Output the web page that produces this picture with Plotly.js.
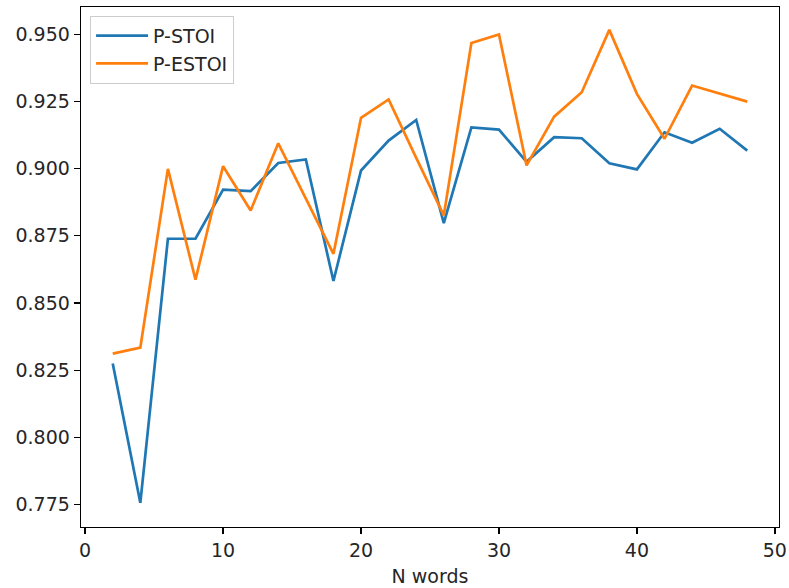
<!DOCTYPE html>
<html>
<head>
<meta charset="utf-8">
<script src="https://cdn.plot.ly/plotly-3.0.1.min.js"></script>
<style>html,body{margin:0;padding:0;background:#fff;}#chart{width:789px;height:588px;}</style>
</head>
<body>
<div id="chart"></div>
<script>
var nWords = [2,4,6,8,10,12,14,16,18,20,22,24,26,28,30,32,34,36,38,40,42,44,46,48];
var pStoi = [0.8275,0.7757,0.8739,0.8739,0.8922,0.8916,0.9021,0.9034,0.8582,0.8993,0.9104,0.9181,0.8797,0.9153,0.9145,0.9025,0.9117,0.9113,0.9020,0.8997,0.9135,0.9096,0.9148,0.9067];
var pEstoi = [0.8312,0.8334,0.8999,0.8587,0.9009,0.8844,0.9094,0.8890,0.8683,0.9189,0.9257,0.9040,0.8826,0.9467,0.9499,0.9012,0.9193,0.9284,0.9516,0.9278,0.9111,0.9309,0.9278,0.9249];
var seriesNames = ["P-STOI","P-ESTOI"];
var yTicks = [0.775,0.800,0.825,0.850,0.875,0.900,0.925,0.950];
var yTickText = ["0.775","0.800","0.825","0.850","0.875","0.900","0.925","0.950"];
var xTicks = [0,10,20,30,40,50];
var xTickText = ["0","10","20","30","40","50"];
</script>
<script>
var font = {family: "DejaVu Sans", size: 19, color: "#262626"};
var traces = [
  {x: nWords, y: pStoi, name: seriesNames[0], type: "scatter", mode: "lines",
   line: {color: "#1f77b4", width: 2.7}},
  {x: nWords, y: pEstoi, name: seriesNames[1], type: "scatter", mode: "lines",
   line: {color: "#ff7f0e", width: 2.7}}
];
var axisCommon = {
  showgrid: false, zeroline: false, showline: true, mirror: true,
  linecolor: "#000", linewidth: 1.3, ticks: "outside", ticklen: 6,
  tickwidth: 1.3, tickcolor: "#000", tickfont: font, ticklabeloverflow: "allow"
};
var layout = {
  width: 789, height: 588,
  margin: {l: 81, r: 10, t: 7, b: 61},
  paper_bgcolor: "#fff", plot_bgcolor: "#fff",
  font: font,
  showlegend: true,
  legend: {x: 0.013, y: 0.983, xanchor: "left", yanchor: "top",
           bgcolor: "rgba(255,255,255,0.8)", bordercolor: "#cccccc", borderwidth: 1,
           itemwidth: 52,
           font: {family: "DejaVu Sans", size: 19, color: "#262626"}, tracegroupgap: 0},
  xaxis: Object.assign({}, axisCommon, {
    range: [-0.3, 50.3], tickvals: xTicks, ticktext: xTickText,
    title: {text: "N words", font: font, standoff: 9}
  }),
  yaxis: Object.assign({}, axisCommon, {
    range: [0.7667, 0.9601], tickvals: yTicks, ticktext: yTickText
  })
};
Plotly.newPlot("chart", traces, layout, {displayModeBar: false, staticPlot: true});
</script>
</body>
</html>
